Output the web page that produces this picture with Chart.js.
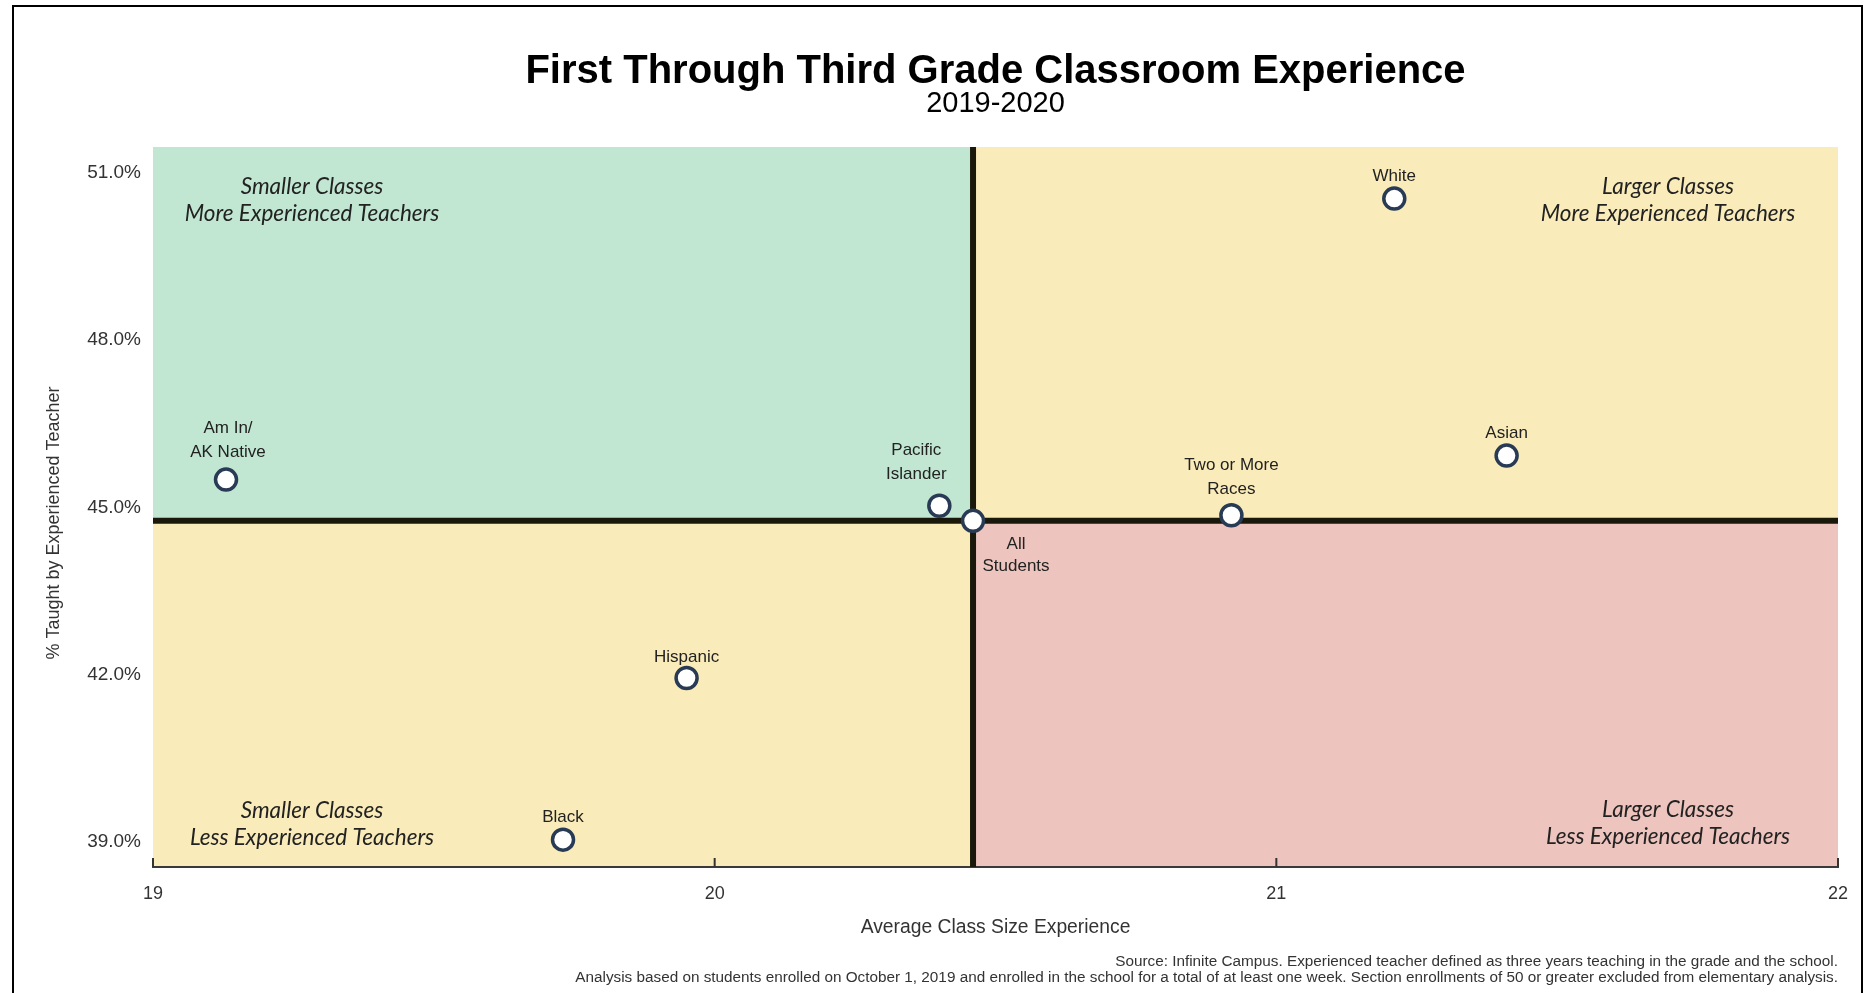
<!DOCTYPE html>
<html>
<head>
<meta charset="utf-8">
<title>First Through Third Grade Classroom Experience</title>
<script src="https://cdn.jsdelivr.net/npm/chart.js"></script>
<style>
  html, body { margin: 0; padding: 0; background: #fff; }
  canvas { display: block; }
</style>
</head>
<body>
<canvas id="chart" width="1875" height="993"></canvas>
<script>
// student groups, average class size and % taught by an experienced teacher
const groups = [['White'], ['Asian'], ['Two or More', 'Races'], ['Am In/', 'AK Native'],
  ['Pacific', 'Islander'], ['All', 'Students'], ['Hispanic'], ['Black']];
const classSize = [21.21, 21.41, 20.92, 19.13, 20.40, 20.46, 19.95, 19.73];
const pctExperienced = [50.54, 45.93, 44.86, 45.50, 45.03, 44.76, 41.94, 39.04];
const overallIndex = 5; // quadrants split on "All Students"

const xTicks = [19, 20, 21, 22];
const yTicks = [39, 42, 45, 48, 51];

const quadrantNames = [
  ['Smaller Classes', 'More Experienced Teachers'],
  ['Larger Classes', 'More Experienced Teachers'],
  ['Smaller Classes', 'Less Experienced Teachers'],
  ['Larger Classes', 'Less Experienced Teachers']
];

const title = 'First Through Third Grade Classroom Experience';
const subtitle = '2019-2020';
const xTitle = 'Average Class Size Experience';
const yTitle = '% Taught by Experienced Teacher';
const notes = [
  'Source: Infinite Campus. Experienced teacher defined as three years teaching in the grade and the school.',
  'Analysis based on students enrolled on October 1, 2019 and enrolled in the school for a total of at least one week. Section enrollments of 50 or greater excluded from elementary analysis.'
];

const FONT = '"Liberation Sans", Arial, sans-serif';
const ITALIC = 'Lato, "Open Sans", sans-serif';

const colors = {
  green: '#c1e7d2',
  yellow: '#faecba',
  pink: '#edc4be',
  divider: '#1a180b',
  point: '#293a55',
  text: '#222'
};

// where each group label sits relative to its point (px)
const labelPlacement = [
  { dx: 0, dy: -22 },
  { dx: 0, dy: -22 },
  { dx: 0, dy: -26 },
  { dx: 2, dy: -27 },
  { dx: -23, dy: -31 },
  { dx: 43, dy: 23, below: true },
  { dx: 0, dy: -21 },
  { dx: 0, dy: -22 }
];

const quadrantPlugin = {
  id: 'quadrants',
  beforeDraw(chart) {
    const { ctx, chartArea: a, scales: { x, y } } = chart;
    const cx = x.getPixelForValue(classSize[overallIndex]);
    const cy = y.getPixelForValue(pctExperienced[overallIndex]);
    ctx.save();
    ctx.fillStyle = colors.green;
    ctx.fillRect(a.left, a.top, cx - a.left, cy - a.top);
    ctx.fillStyle = colors.yellow;
    ctx.fillRect(cx, a.top, a.right - cx, cy - a.top);
    ctx.fillRect(a.left, cy, cx - a.left, a.bottom - cy);
    ctx.fillStyle = colors.pink;
    ctx.fillRect(cx, cy, a.right - cx, a.bottom - cy);

    // quadrant captions
    ctx.font = 'italic 22.5px ' + ITALIC;
    ctx.fillStyle = colors.text;
    ctx.textAlign = 'center';
    ctx.textBaseline = 'middle';
    const lx = a.left + 159, rx = a.right - 170;
    const spots = [[lx, a.top + 40], [rx, a.top + 40], [lx, a.bottom - 56], [rx, a.bottom - 57]];
    quadrantNames.forEach((lines, i) => {
      lines.forEach((t, j) => ctx.fillText(t, spots[i][0], spots[i][1] + j * 27));
    });
    ctx.restore();
  },
  beforeDatasetsDraw(chart) {
    const { ctx, chartArea: a, scales: { x, y } } = chart;
    const cx = x.getPixelForValue(classSize[overallIndex]);
    const cy = y.getPixelForValue(pctExperienced[overallIndex]);
    ctx.save();
    ctx.strokeStyle = colors.divider;
    ctx.lineWidth = 6;
    ctx.beginPath();
    ctx.moveTo(cx, a.top);
    ctx.lineTo(cx, a.bottom);
    ctx.moveTo(a.left, cy);
    ctx.lineTo(a.right, cy);
    ctx.stroke();

    // tick marks pointing into the plot
    ctx.strokeStyle = '#333';
    ctx.lineWidth = 2;
    ctx.beginPath();
    xTicks.forEach(v => {
      const px = x.getPixelForValue(v);
      ctx.moveTo(px, a.bottom);
      ctx.lineTo(px, a.bottom - 9);
    });
    ctx.stroke();
    ctx.restore();
  },
  afterDatasetsDraw(chart) {
    const { ctx, scales: { x, y } } = chart;
    ctx.save();
    ctx.font = '17px ' + FONT;
    ctx.fillStyle = colors.text;
    ctx.textAlign = 'center';
    ctx.textBaseline = 'middle';
    groups.forEach((lines, i) => {
      const p = labelPlacement[i];
      const px = x.getPixelForValue(classSize[i]) + p.dx;
      const py = y.getPixelForValue(pctExperienced[i]) + p.dy;
      lines.forEach((t, j) => {
        const off = p.below ? j * 22 : -(lines.length - 1 - j) * 24;
        ctx.fillText(t, px, py + off);
      });
    });
    ctx.restore();
  },
  afterDraw(chart) {
    const { ctx, chartArea: a } = chart;
    const mid = (a.left + a.right) / 2;
    ctx.save();
    ctx.fillStyle = '#000';
    ctx.textAlign = 'center';
    ctx.textBaseline = 'middle';
    ctx.font = 'bold 40px ' + FONT;
    ctx.fillText(title, mid, 72);
    ctx.font = '29px ' + FONT;
    ctx.fillText(subtitle, mid, 104);

    ctx.fillStyle = '#333';
    ctx.font = '19.3px ' + FONT;
    ctx.fillText(xTitle, mid, 928);
    ctx.save();
    ctx.translate(54, 523);
    ctx.rotate(-Math.PI / 2);
    ctx.font = '18px ' + FONT;
    ctx.fillText(yTitle, 0, 0);
    ctx.restore();

    ctx.textAlign = 'right';
    ctx.font = '15.3px ' + FONT;
    ctx.fillText(notes[0], a.right, 962);
    ctx.fillText(notes[1], a.right, 978);

    // outer frame
    ctx.strokeStyle = '#000';
    ctx.lineWidth = 2;
    ctx.strokeRect(13, 6, 1849, 1000);
    ctx.restore();
  }
};

new Chart(document.getElementById('chart'), {
  type: 'scatter',
  data: {
    datasets: [{
      data: classSize.map((v, i) => ({ x: v, y: pctExperienced[i] })),
      pointRadius: 10.5,
      pointHoverRadius: 10.5,
      pointBorderWidth: 3.5,
      pointBackgroundColor: '#fff',
      pointBorderColor: colors.point
    }]
  },
  options: {
    responsive: false,
    animation: false,
    layout: {
      padding: { left: 0, top: 147, right: 37, bottom: 66 }
    },
    plugins: {
      legend: { display: false },
      tooltip: { enabled: false }
    },
    scales: {
      x: {
        type: 'linear',
        min: 19,
        max: 22,
        afterBuildTicks: axis => { axis.ticks = xTicks.map(v => ({ value: v })); },
        afterFit: axis => { axis.height = 60; },
        grid: { display: false, drawTicks: false },
        border: { display: true, color: '#3a3a3a', width: 2 },
        ticks: {
          padding: 16,
          color: '#333',
          font: { family: FONT, size: 18 }
        }
      },
      y: {
        type: 'linear',
        min: 38.55,
        max: 51.466,
        afterBuildTicks: axis => { axis.ticks = yTicks.map(v => ({ value: v })); },
        afterFit: axis => { axis.width = 153; },
        grid: { display: false, drawTicks: false },
        border: { display: false },
        ticks: {
          padding: 12,
          color: '#333',
          font: { family: FONT, size: 19 },
          callback: v => v.toFixed(1) + '%'
        }
      }
    }
  },
  plugins: [quadrantPlugin]
});
</script>
</body>
</html>
